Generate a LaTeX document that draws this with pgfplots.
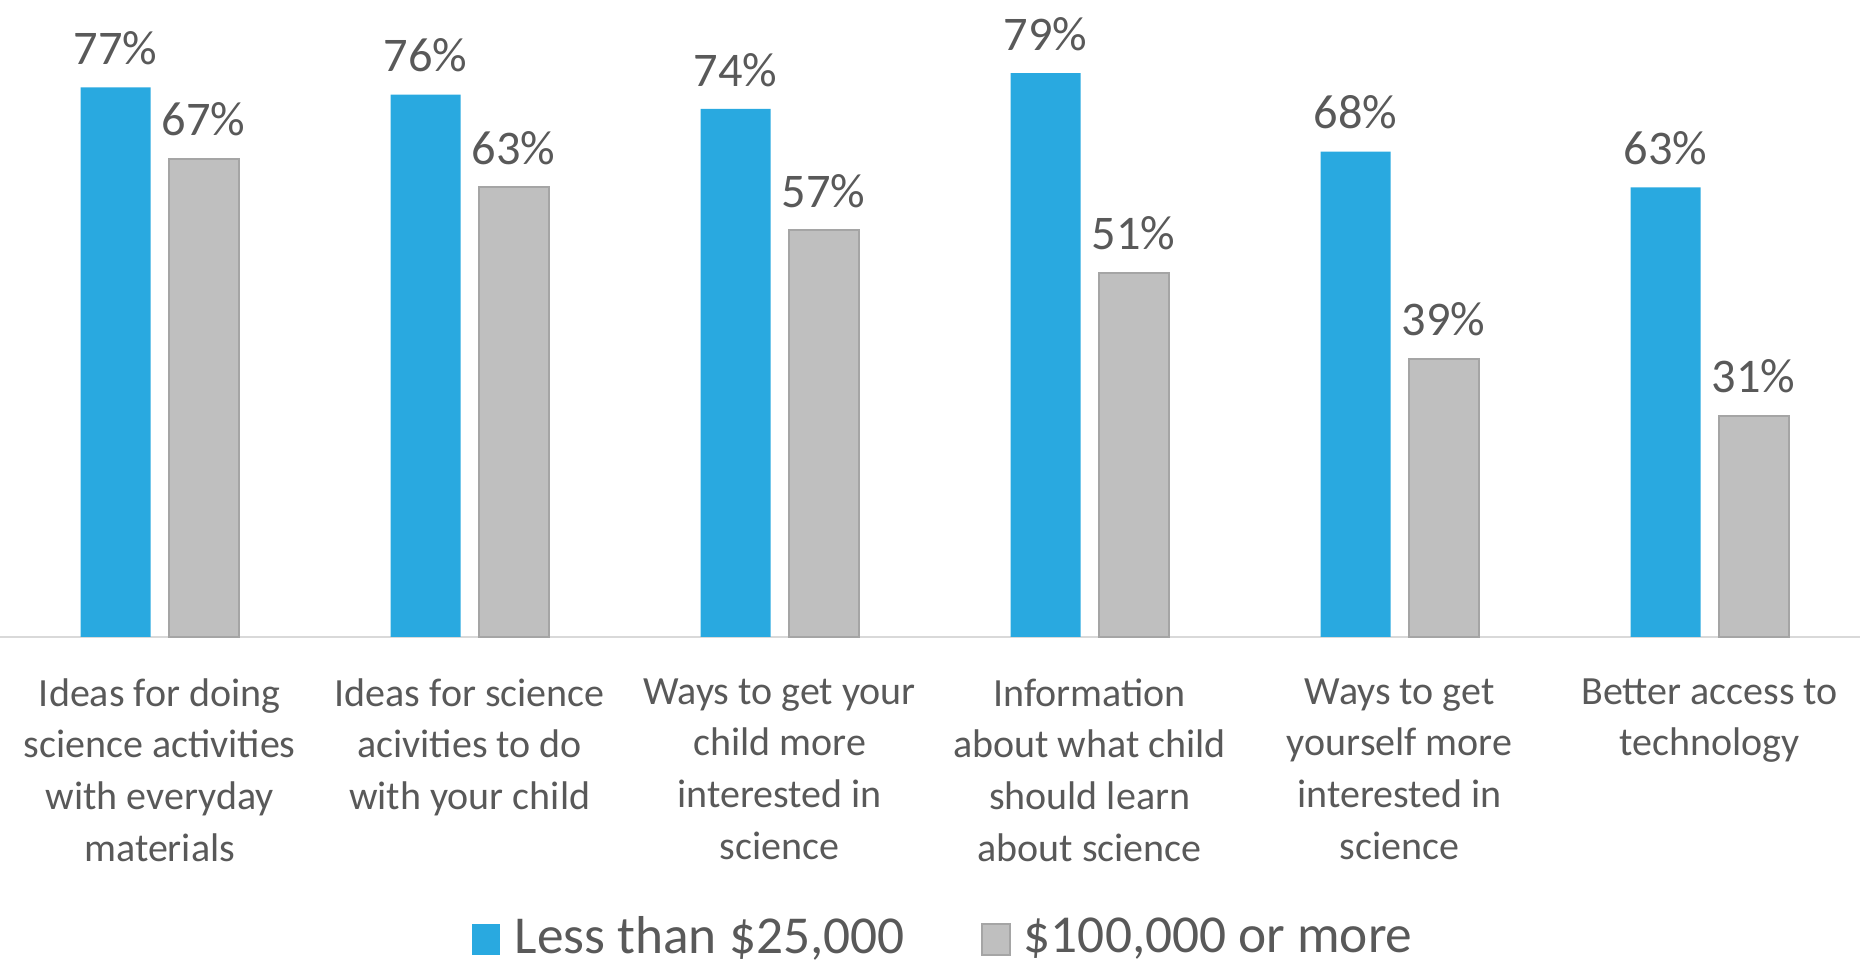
\documentclass[border=0pt]{standalone}
\usepackage{pgfplots}
\pgfplotsset{compat=1.18}
\usepackage{fontspec}
\setmainfont{Carlito}
\definecolor{barblue}{RGB}{41,169,224}
\definecolor{bargray}{RGB}{191,191,191}
\definecolor{bargrayedge}{RGB}{165,165,165}
\definecolor{txt}{RGB}{89,89,89}
\definecolor{axgray}{RGB}{217,217,217}
\begin{document}
\begin{tikzpicture}
\useasboundingbox (0pt,-97.8pt) rectangle (558pt,191.1pt);
\begin{axis}[
  at={(0pt,0pt)}, anchor=south west,
  scale only axis, width=558pt, height=182pt,
  ymin=0, ymax=85, xmin=-0.515, xmax=5.485,
  clip=false,
  axis x line*=bottom, axis y line=none,
  x axis line style={axgray, line width=0.6pt, -},
  ytick=\empty,
  xtick={0,...,5},
  xtick style={draw=none},
  xticklabels={
    {Ideas for doing\\science activities\\with everyday\\materials},
    {Ideas for science\\acivities to do\\with your child},
    {Ways to get your\\child more\\interested in\\science},
    {Information\\about what child\\should learn\\about science},
    {Ways to get\\yourself more\\interested in\\science},
    {Better access to\\technology}},
  xticklabel style={align=center, font=\fontsize{12}{15.5}\selectfont,
    text=txt, anchor=north, inner sep=0pt, yshift=-8pt},
  ybar=5.4pt, bar width=21pt,
  nodes near coords={\pgfmathprintnumber[assume math mode=true]{\pgfplotspointmeta}\%},
  every node near coord/.append style={font=\fontsize{14.5}{17}\selectfont,
    text=txt, inner sep=0pt, anchor=south, yshift=6.5pt},
  legend style={at={(0.5067,0)}, anchor=center, yshift=-90.1pt, draw=none,
    font=\fontsize{16}{19}\selectfont, text=txt,
    nodes={inner sep=0pt},
    /tikz/every even column/.append style={column sep=22.8pt}},
  legend columns=2,
  legend image code/.code={
    \fill[#1] (0pt,-5.4pt) rectangle (8.4pt,3.9pt);
    \path[draw=none, fill=none] (0pt,0pt) -- (12.7pt,0pt);},
]
\addplot[fill=barblue, draw=none] coordinates {
  (0,77) (1,76) (2,74) (3,79) (4,68) (5,63)};
\addplot[fill=bargray, draw=bargrayedge, line width=0.6pt] coordinates {
  (0,67) (1,63) (2,57) (3,51) (4,39) (5,31)};
\legend{{Less than \$25,000}, {\$100,000 or more}}
\end{axis}
\end{tikzpicture}
\end{document}
